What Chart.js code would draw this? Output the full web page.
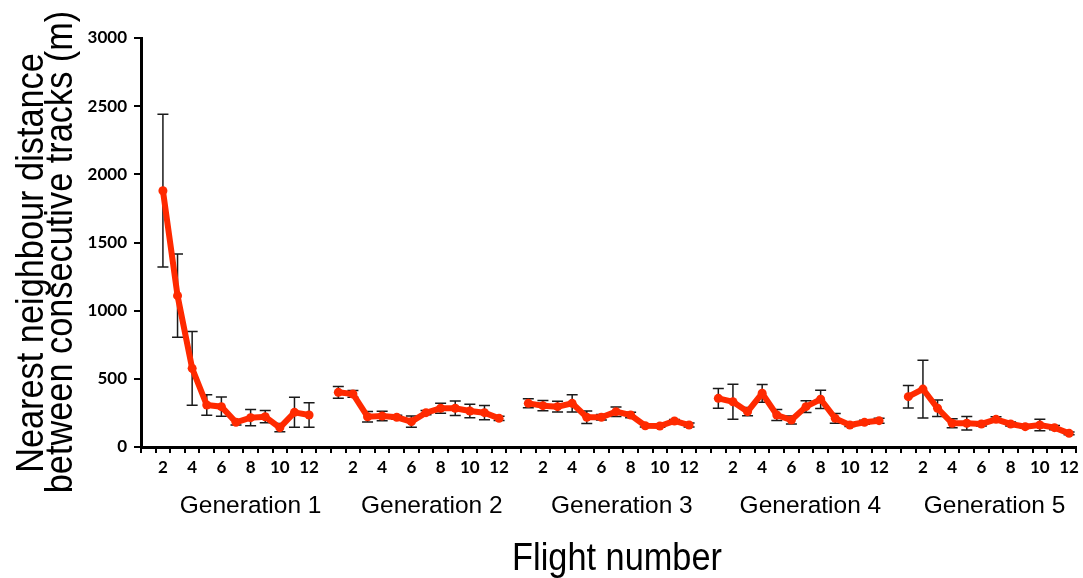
<!DOCTYPE html>
<html>
<head>
<meta charset="utf-8">
<script src="https://cdn.jsdelivr.net/npm/chart.js@4/dist/chart.umd.min.js"></script>
<style>
  html, body { margin: 0; padding: 0; background: #fff; }
  canvas { display: block; }
</style>
</head>
<body>
<canvas id="c" width="1083" height="578"></canvas>
<script>
// ---- Data ----
const generations = ['Generation 1', 'Generation 2', 'Generation 3', 'Generation 4', 'Generation 5'];
const flights = [1, 2, 3, 4, 5, 6, 7, 8, 9, 10, 11, 12];

// Generation 1 has no value for flight 1
const gen1Mean = [null, 1880, 1110, 577, 308, 296, 181, 215, 222, 142, 254, 235];
const gen1Err  = [null,  560,  305, 270,  75,  70,  20,  60,  45,  30, 110,  90];
const gen2Mean = [401, 389, 222, 227, 218, 186, 252, 284, 284, 264, 252, 210];
const gen2Err  = [ 43,  25,  38,  35,  15,  42,  15,  36,  53,  50,  52,  15];
const gen3Mean = [320, 303, 296, 320, 218, 218, 259, 235, 156, 154, 191, 161];
const gen3Err  = [ 33,  38,  40,  63,  46,  20,  35,  20,  10,  10,  10,  15];
const gen4Mean = [357, 332, 259, 394, 235, 198, 296, 350, 210, 161, 181, 193];
const gen4Err  = [ 72, 128,  30,  65,  40,  30,  43,  67,  35,  10,  15,  18];
const gen5Mean = [369, 425, 284, 174, 174, 169, 203, 169, 149, 161, 142, 100];
const gen5Err  = [ 83, 212,  60,  33,  50,  15,  18,  15,  10,  42,  15,  10];

const yTicks = [0, 500, 1000, 1500, 2000, 2500, 3000];
const yTitle = ['Nearest neighbour distance', 'between consecutive tracks (m)'];
const xTitle = 'Flight number';

// ---- Build one continuous category axis: 12 slots per generation + 1 empty slot between ----
const allMeans = [gen1Mean, gen2Mean, gen3Mean, gen4Mean, gen5Mean];
const allErrs = [gen1Err, gen2Err, gen3Err, gen4Err, gen5Err];
const labels = [], values = [], errors = [];
allMeans.forEach((m, g) => {
  if (g > 0) { labels.push(''); values.push(null); errors.push(null); }
  flights.forEach((f, i) => {
    labels.push(String(f));
    values.push(m[i]);
    errors.push(allErrs[g][i]);
  });
});

const RED = '#ff2a00';
const tickFont = { family: 'Lato', weight: 'bold', size: 17 };

const errorBars = {
  id: 'errorBars',
  beforeDatasetsDraw(chart) {
    const { ctx, scales: { x, y } } = chart;
    ctx.save();
    ctx.strokeStyle = '#1a1a1a';
    ctx.lineWidth = 1.5;
    values.forEach((v, i) => {
      if (v == null || errors[i] == null) return;
      const px = x.getPixelForValue(i);
      const t = y.getPixelForValue(v + errors[i]);
      const b = y.getPixelForValue(Math.max(0, v - errors[i]));
      const cw = 5.5;
      ctx.beginPath();
      ctx.moveTo(px, t); ctx.lineTo(px, b);
      ctx.moveTo(px - cw, t); ctx.lineTo(px + cw, t);
      ctx.moveTo(px - cw, b); ctx.lineTo(px + cw, b);
      ctx.stroke();
    });
    ctx.restore();
  }
};

const titles = {
  id: 'titles',
  afterDraw(chart) {
    const { ctx, scales: { x } } = chart;
    ctx.save();
    ctx.fillStyle = '#000';
    // Generation labels
    ctx.font = '24.5px "Liberation Sans", Arial, sans-serif';
    ctx.textAlign = 'center';
    ctx.textBaseline = 'alphabetic';
    const genCenter = [7.0, 19.4, 32.4, 45.3, 57.9];
    generations.forEach((g, k) => {
      ctx.fillText(g, x.getPixelForValue(genCenter[k]), 513);
    });
    // X title
    ctx.font = '39px "Liberation Sans", Arial, sans-serif';
    ctx.save();
    ctx.translate(617, 570);
    ctx.scale(0.88, 1);
    ctx.fillText(xTitle, 0, 0);
    ctx.restore();
    // Y title (two lines, rotated)
    const ys = [[43, 263], [72, 252]];
    yTitle.forEach((line, k) => {
      ctx.save();
      ctx.translate(ys[k][0], ys[k][1]);
      ctx.rotate(-Math.PI / 2);
      ctx.scale(0.88, 1);
      ctx.fillText(line, 0, 0);
      ctx.restore();
    });
    ctx.restore();
  }
};

new Chart(document.getElementById('c'), {
  type: 'line',
  data: {
    labels: labels,
    datasets: [{
      data: values,
      borderColor: RED,
      backgroundColor: RED,
      borderWidth: 6,
      pointRadius: 4.5,
      pointBorderWidth: 0,
      pointBackgroundColor: RED,
      spanGaps: false,
      tension: 0
    }]
  },
  options: {
    responsive: false,
    animation: false,
    layout: { padding: { top: 38, right: 5, left: 0, bottom: 0 } },
    plugins: { legend: { display: false }, tooltip: { enabled: false } },
    scales: {
      x: {
        type: 'category',
        offset: true,
        grid: { display: true, drawOnChartArea: false, drawTicks: true, tickLength: 6, color: '#000', lineWidth: 2, offset: true },
        border: { display: true, color: '#000', width: 3 },
        ticks: {
          autoSkip: false, maxRotation: 0, minRotation: 0, padding: 4,
          font: tickFont, color: '#000',
          callback: function (val) {
            const l = this.getLabelForValue(val);
            return (l !== '' && Number(l) % 2 === 0) ? l : '';
          }
        },
        afterFit: s => { s.height = 131; }
      },
      y: {
        min: 0, max: 3000,
        afterBuildTicks: s => { s.ticks = yTicks.map(v => ({ value: v })); },
        grid: { display: true, drawOnChartArea: false, drawTicks: true, tickLength: 7, color: '#000', lineWidth: 2 },
        border: { display: true, color: '#000', width: 3 },
        ticks: { font: tickFont, color: '#000', padding: 7, callback: v => String(v) },
        afterFit: s => { s.width = 141; }
      }
    }
  },
  plugins: [errorBars, titles]
});
</script>
</body>
</html>
